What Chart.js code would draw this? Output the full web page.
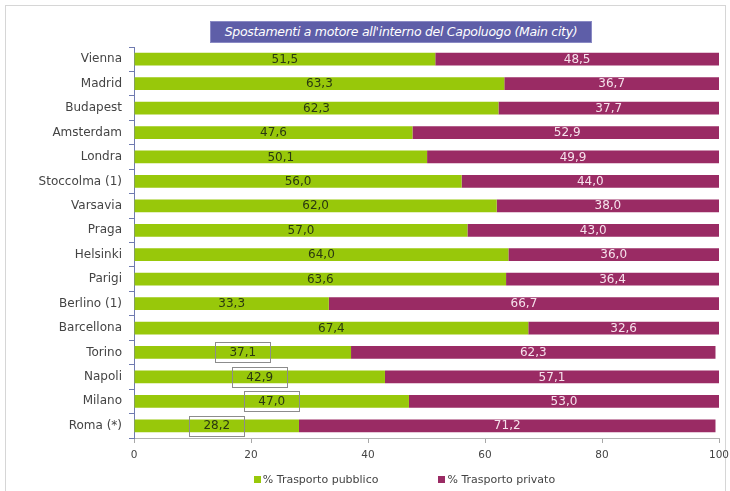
<!DOCTYPE html>
<html>
<head>
<meta charset="utf-8">
<script src="https://cdn.jsdelivr.net/npm/chart.js@4"></script>
<style>
  html, body { margin: 0; padding: 0; background: #ffffff; }
  #wrap { position: relative; width: 730px; height: 491px; overflow: hidden; }
  #frame { position: absolute; left: 5px; top: 5px; width: 721px; height: 495px;
           border: 1px solid #d6d6d6; box-sizing: border-box; }
  #chart { position: absolute; left: 0; top: 0; }
  #title { position: absolute; left: 210px; top: 21px; width: 382px; height: 22px;
           background: #5e5ea8; border: 1px solid #8a8ac4; box-sizing: border-box;
           color: #ffffff; font: oblique 12.5px "DejaVu Sans", sans-serif;
           line-height: 20px; text-align: center; white-space: nowrap; letter-spacing: -0.3px; }
  #legend { position: absolute; left: 0; top: 473px; width: 809px; text-align: center;
            font: 11px "DejaVu Sans", sans-serif; color: #444444; white-space: nowrap; }
  #legend span.item { display: inline-block; margin: 0 30px; }
  #legend span.sw { display: inline-block; width: 7px; height: 7px; margin-right: 2px;
                    vertical-align: 0px; }
</style>
</head>
<body>
<div id="wrap">
  <div id="frame"></div>
  <canvas id="chart" width="730" height="491"></canvas>
  <div id="title">Spostamenti a motore all'interno del Capoluogo (Main city)</div>
  <div id="legend"></div>
</div>
<script>
// Share of motorised trips inside the main city, by mode (%)
const cities = ['Vienna', 'Madrid', 'Budapest', 'Amsterdam', 'Londra', 'Stoccolma (1)',
  'Varsavia', 'Praga', 'Helsinki', 'Parigi', 'Berlino (1)', 'Barcellona',
  'Torino', 'Napoli', 'Milano', 'Roma (*)'];
const publicShare = [51.5, 63.3, 62.3, 47.6, 50.1, 56.0, 62.0, 57.0, 64.0, 63.6, 33.3, 67.4,
  37.1, 42.9, 47.0, 28.2];
const privateShare = [48.5, 36.7, 37.7, 52.9, 49.9, 44.0, 38.0, 43.0, 36.0, 36.4, 66.7, 32.6,
  62.3, 57.1, 53.0, 71.2];
const seriesNames = ['% Trasporto pubblico', '% Trasporto privato'];
const xTicks = [0, 20, 40, 60, 80, 100];
// Italian cities get a framed label on the public-transport bar
const framedCities = ['Torino', 'Napoli', 'Milano', 'Roma (*)'];

const GREEN = '#98c80a';
const PURPLE = '#9a2b64';
const FONT = '"DejaVu Sans", sans-serif';

const fmt = v => v.toFixed(1).replace('.', ',');

// Writes each segment's value in the middle of its bar
const valueLabels = {
  id: 'valueLabels',
  afterDatasetsDraw(chart) {
    const ctx = chart.ctx;
    ctx.save();
    ctx.font = '12px ' + FONT;
    ctx.textAlign = 'center';
    ctx.textBaseline = 'middle';
    chart.data.datasets.forEach((ds, di) => {
      const meta = chart.getDatasetMeta(di);
      meta.data.forEach((bar, i) => {
        const p = bar.getProps(['x', 'y', 'base'], true);
        const cx = (p.x + p.base) / 2;
        const text = fmt(ds.data[i]);
        if (di === 0 && framedCities.includes(chart.data.labels[i])) {
          const w = ctx.measureText(text).width + 28;
          ctx.strokeStyle = '#8c8c8c';
          ctx.lineWidth = 1;
          ctx.strokeRect(Math.round(cx - w / 2) + 0.5, Math.round(p.y - 10) + 0.5, Math.round(w), 20);
        }
        ctx.fillStyle = di === 0 ? '#2a3810' : '#f6e2ec';
        ctx.fillText(text, cx, p.y + 0.5);
      });
    });
    ctx.restore();
  }
};

const chart = new Chart(document.getElementById('chart'), {
  type: 'bar',
  data: {
    labels: cities,
    datasets: [
      { label: seriesNames[0], data: publicShare, backgroundColor: GREEN,
        barPercentage: 0.52, categoryPercentage: 1 },
      { label: seriesNames[1], data: privateShare, backgroundColor: PURPLE,
        barPercentage: 0.52, categoryPercentage: 1 }
    ]
  },
  options: {
    indexAxis: 'y',
    responsive: false,
    animation: false,
    layout: { padding: { left: 0, right: 11, top: 47, bottom: 29 } },
    plugins: {
      legend: { display: false },
      title: { display: false },
      tooltip: { enabled: false }
    },
    scales: {
      x: {
        stacked: true,
        min: 0,
        max: 100,
        afterBuildTicks: s => { s.ticks = xTicks.map(v => ({ value: v })); },
        afterFit: s => { s.height = 24; s.paddingRight = 0; },
        ticks: { color: '#444444', font: { family: FONT, size: 10.5 }, padding: 6 },
        grid: { drawOnChartArea: false, drawTicks: true, tickLength: 5, color: '#a8a8a8' },
        border: { color: '#b4b4b4' }
      },
      y: {
        stacked: true,
        afterFit: s => { s.width = 134; },
        ticks: { color: '#444444', font: { family: FONT, size: 12 }, padding: 7 },
        grid: { drawOnChartArea: false, drawTicks: true, tickLength: 5, offset: true, color: '#6f7ab0' },
        border: { color: '#6f7ab0' }
      }
    }
  },
  plugins: [valueLabels]
});

// HTML legend built from the datasets
const legendEl = document.getElementById('legend');
chart.data.datasets.forEach(ds => {
  const item = document.createElement('span');
  item.className = 'item';
  const sw = document.createElement('span');
  sw.className = 'sw';
  sw.style.background = ds.backgroundColor;
  item.appendChild(sw);
  item.appendChild(document.createTextNode(ds.label));
  legendEl.appendChild(item);
});
</script>
</body>
</html>
